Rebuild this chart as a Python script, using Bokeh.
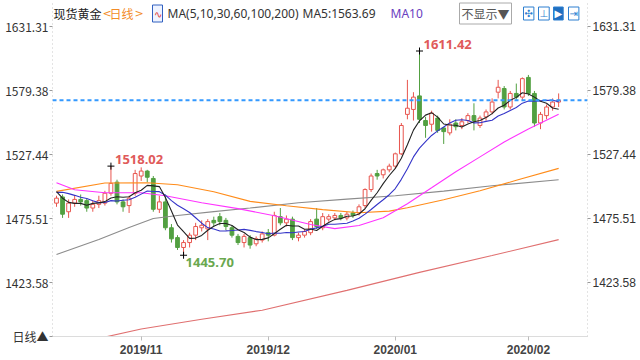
import numpy as np
from bokeh.plotting import figure
from bokeh.models import Range1d, LinearAxis, FixedTicker, Label, Span, ColumnDataSource
from bokeh.embed import file_html
from bokeh.resources import INLINE

# ---- data ----
opens  = [1488,1493,1481,1488,1491,1490,1484,1487,1488,1496,1505,1489,1486,1496,1510,1514,1508,1483,1489,1468,
          1460,1452,1456,1462,1468,1467,1474,1477,1474,1468,1461,1456,1460,1455,1458,1464,1462,1477,1472,1475,
          1460,1462,1464,1475,1468,1475,1476,1478,1476,1480,1480,1486,1499,1512,1511,1515,1518,1528,1560,1564,
          1575,1555,1552,1557,1549,1545,1553,1551,1555,1559,1551,1558,1562,1578,1581,1566,1577,1574,1590,1577,
          1553,1559,1566,1570]
highs  = [1494,1495,1491,1494,1495,1492,1490,1494,1498,1518.02,1507,1491,1494,1515,1517,1515,1510,1494,1495,1471,
          1462,1458,1464,1472,1474,1475,1477,1480,1476,1470,1463,1463,1462,1461,1465,1467,1481,1484,1478,1477,
          1464,1467,1475,1484,1480,1479,1480,1480,1481,1482,1487,1500,1512,1515,1516,1520,1529,1553,1588,1578,
          1611.42,1558,1563,1559,1550,1556,1556,1557,1561,1569,1559,1564,1573,1588,1583,1579,1585,1590,1592,1579,
          1562,1568,1573,1577]
lows   = [1485,1476,1476,1485,1486,1481,1481,1484,1486,1494,1487,1481,1480,1494,1506,1505,1481,1480,1466,1456,
          1450,1445.70,1452,1458,1465,1458,1469,1470,1466,1460,1454,1452,1451,1453,1456,1457,1461,1470,1469,1458,
          1457,1460,1462,1467,1466,1473,1474,1474,1474,1476,1478,1484,1497,1507,1508,1513,1516,1527,1556,1555,
          1553,1541,1546,1545,1536,1543,1547,1548,1553,1547,1549,1555,1560,1573,1564,1564,1572,1571,1575,1550,
          1548,1556,1563,1566]
closes = [1492,1479,1488,1491,1489,1484,1487,1490,1496,1504,1489,1485,1492,1512,1514,1509,1483,1489,1468,1459,
          1452,1456,1462,1469,1470,1473,1472,1473,1469,1462,1456,1461,1454,1459,1463,1462,1478,1472,1475,1460,
          1462,1465,1473,1469,1477,1477,1478,1476,1479,1478,1485,1499,1510,1510,1515,1518,1528,1551,1565,1574,
          1556,1551,1561,1547,1546,1552,1550,1554,1559,1555,1557,1562,1570,1582,1566,1577,1574,1589,1577,1553,
          1560,1566,1570,1571.5]
pre_closes = [1478,1499,1505,1505,1493,1506,1505,1495,1489]   # closes before the first bar (for MA5/MA10)

ma30_idx = [0,3,8,14,18,24,30,36,42,46,50,54,58,62,66,70,74,78,83]
ma30_val = [1504.5,1498.8,1496.4,1496.4,1494.0,1488.3,1483.5,1477.8,1470.6,1467.3,1469.8,1476.2,1487.5,
            1500.4,1513.4,1525.5,1537.6,1548.1,1560.2]
ma60_idx = [0,8,15,20,26,32,38,44,50,55,58,64,70,76,83]
ma60_val = [1497.5,1504.3,1504.5,1502.9,1497.2,1489.4,1485.9,1482.7,1480.2,1481.5,1484.3,1490.8,1498.0,1506.5,1516.2]
ma100_idx = [0,7,12,16,20,26,32,40,48,56,64,72,83]
ma100_val = [1446.3,1458.5,1468.3,1475.5,1477.9,1481.1,1484.0,1488.3,1491.2,1494.0,1497.7,1502.1,1506.9]
ma200_idx = [0,8,14,24,34,48,60,72,83]
ma200_val = [1372.0,1379.3,1385.8,1393.8,1401.1,1417.2,1431.8,1445.5,1458.4]

y_ticks = [1423.58, 1475.51, 1527.44, 1579.38, 1631.31]
month_idx = [14, 35, 56, 78]
month_labels = ["2019/11", "2019/12", "2020/01", "2020/02"]
last_price = 1571.5
ma5_last = "1563.69"

# ---- derived ----
n = len(closes)
idx = np.arange(n)
allc = np.array(pre_closes + closes, dtype=float)
off = len(pre_closes)
ma5 = [allc[off + i - 4: off + i + 1].mean() for i in range(n)]
ma10 = [allc[off + i - 9: off + i + 1].mean() for i in range(n)]

o = np.array(opens, float); c = np.array(closes, float)
h = np.array(highs, float); l = np.array(lows, float)
up = c >= o

RED = "#e8554e"
GREEN = "#52a041"

W, H = 640, 360
LB, RB, TB, BB = 52, 53, 0, 24
PXX = 6.05          # px per bar
PXY = 1.2324        # px per price unit
X0 = -4 / PXX
X1 = X0 + (W - LB - RB) / PXX
Y1 = 1631.31 + 26 / PXY
Y0 = Y1 - (H - TB - BB) / PXY

p = figure(width=W, height=H, output_backend="svg", toolbar_location=None,
           x_range=Range1d(X0, X1), y_range=Range1d(Y0, Y1),
           min_border_left=LB, min_border_right=RB, min_border_top=TB, min_border_bottom=BB,
           x_axis_type=None, y_axis_type=None)
p.outline_line_color = None

def px2x(px):
    return X0 + (px - LB) / PXX

def px2y(py):
    return Y1 + (TB - py) / PXY

AXFONT = "Liberation Sans"

# axes
ra = LinearAxis(ticker=FixedTicker(ticks=y_ticks),
                major_label_overrides={t: f"{t:.2f}" for t in y_ticks})
ra.axis_line_color = "#c8c8c8"; ra.axis_line_dash = "1 3"
ra.major_tick_line_color = "#999999"; ra.major_tick_out = 3; ra.major_tick_in = 0
ra.minor_tick_line_color = None
ra.major_label_standoff = 2
ra.major_label_text_font = AXFONT; ra.major_label_text_font_size = "12px"
ra.major_label_text_color = "#333333"
p.add_layout(ra, "right")

# left axis: price ticks plus the period tag at the bottom corner
corner = Y0 + 0.05
left_ticks = [corner] + y_ticks
left_over = {t: f"{t:.2f}" for t in y_ticks}
left_over[corner] = "日线▲"
la = LinearAxis(ticker=FixedTicker(ticks=left_ticks), major_label_overrides=left_over)
la.axis_line_color = "#c8c8c8"; la.axis_line_dash = "1 3"
la.major_tick_line_color = "#999999"; la.major_tick_out = 3; la.major_tick_in = 0
la.minor_tick_line_color = None
la.major_label_standoff = 1
la.major_label_text_font = "Noto Sans CJK SC"; la.major_label_text_font_size = "12px"
la.major_label_text_color = "#333333"
p.add_layout(la, "left")

ba = LinearAxis(ticker=FixedTicker(ticks=month_idx),
                major_label_overrides={k: v for k, v in zip(month_idx, month_labels)})
ba.axis_line_color = "#dcdcdc"
ba.major_tick_line_color = "#bbbbbb"; ba.major_tick_out = 4; ba.major_tick_in = 0
ba.minor_tick_line_color = None
ba.major_label_standoff = 2
ba.major_label_text_align = "left"
ba.major_label_text_font = AXFONT; ba.major_label_text_font_size = "12px"
ba.major_label_text_font_style = "bold"; ba.major_label_text_color = "#444444"
p.add_layout(ba, "below")

# candles
src_up = ColumnDataSource(dict(x=idx[up], o=o[up], c=c[up], h=h[up], l=l[up]))
src_dn = ColumnDataSource(dict(x=idx[~up], o=o[~up], c=c[~up], h=h[~up], l=l[~up]))
p.segment(x0="x", y0="h", x1="x", y1="c", source=src_up, line_color=RED, line_width=1)
p.segment(x0="x", y0="o", x1="x", y1="l", source=src_up, line_color=RED, line_width=1)
p.vbar(x="x", bottom="o", top="c", width=0.62, source=src_up, fill_color="white", line_color=RED, line_width=1)
p.segment(x0="x", y0="h", x1="x", y1="l", source=src_dn, line_color=GREEN, line_width=1)
p.vbar(x="x", bottom="c", top="o", width=0.62, source=src_dn, fill_color=GREEN, line_color=GREEN, line_width=1)

# moving averages
p.line(ma200_idx, ma200_val, line_color="#e07070", line_width=1.1)
p.line(ma100_idx, ma100_val, line_color="#8c8c8c", line_width=1.1)
p.line(ma60_idx, ma60_val, line_color="#ff8c1a", line_width=1.1)
p.line(ma30_idx, ma30_val, line_color="#ff33ff", line_width=1.1)
p.line(idx, ma10, line_color="#3434c8", line_width=1.1)
p.line(idx, ma5, line_color="#222222", line_width=1.1)

# last price line
p.add_layout(Span(location=last_price, dimension="width", line_color="#3399ff",
                  line_width=2, line_dash="4 3"))

# extreme markers
ext_i = [9, 60, 21]
ext_v = [highs[9], highs[60], lows[21]]
p.scatter(ext_i, ext_v, marker="cross", size=7, line_color="black", line_width=1)
fontn = "Noto Sans"
p.add_layout(Label(x=9, y=highs[9], text=f"{highs[9]:.2f}", x_offset=4, y_offset=2,
                   text_baseline="bottom", text_color="#e05a5a", text_font=fontn,
                   text_font_size="13px", text_font_style="bold"))
p.add_layout(Label(x=60, y=highs[60], text=f"{highs[60]:.2f}", x_offset=4, y_offset=2,
                   text_baseline="bottom", text_color="#e05a5a", text_font=fontn,
                   text_font_size="13px", text_font_style="bold"))
p.add_layout(Label(x=21, y=lows[21], text=f"{lows[21]:.2f}", x_offset=2, y_offset=-3,
                   text_baseline="top", text_color="#6aa84f", text_font=fontn,
                   text_font_size="13px", text_font_style="bold"))

# header texts, placed by pixel position converted to data units
def lab(text, px, py, color="#333333", size="12px", font="Noto Sans CJK SC", pad=None, **kw):
    kwargs = dict(x=px2x(px), y=px2y(py), text=text, text_baseline="middle", text_align="left",
                  text_color=color, text_font=font, text_font_size=size, **kw)
    try:
        lb = Label(**kwargs, **({"padding": pad} if pad is not None else {}))
    except Exception:
        lb = Label(**kwargs)
    p.add_layout(lb)

lab("现货黄金", 53, 13, color="#222222")
lab("<", 102, 13, color="#f28c28", font="DejaVu Sans", size="11px")
lab("日线", 109, 13, color="#f28c28")
lab(">", 134, 13, color="#f28c28", font="DejaVu Sans", size="11px")
lab("∿", 152, 13, color="#e03030", size="10px", border_line_color="#3060c0",
    background_fill_color="#eef3ff", pad=1)
lab("MA(5,10,30,60,100,200)", 167, 13, color="#333333", font="Noto Sans")
lab("MA5:" + ma5_last, 302, 13, color="#333333", font="Noto Sans")
lab("MA10", 390, 13, color="#6a40c0", font="Noto Sans")
lab("不显示▼", 459, 13, color="#555555", size="12px", border_line_color="#aaaaaa",
    background_fill_color="white", pad=2)
for k, (g, fc, bg) in enumerate([("✣", "#2d7fd0", "white"), ("⊥", "#2d7fd0", "white"),
                                  ("▶", "white", "#1f6fc0"), ("⇥", "#2d7fd0", "white")]):
    lab(g, 523 + 15 * k, 13, color=fc, size="10px", font="DejaVu Sans",
        border_line_color="#2d7fd0", background_fill_color=bg, pad=1)

open("out.html", "w").write(file_html(p, INLINE))
